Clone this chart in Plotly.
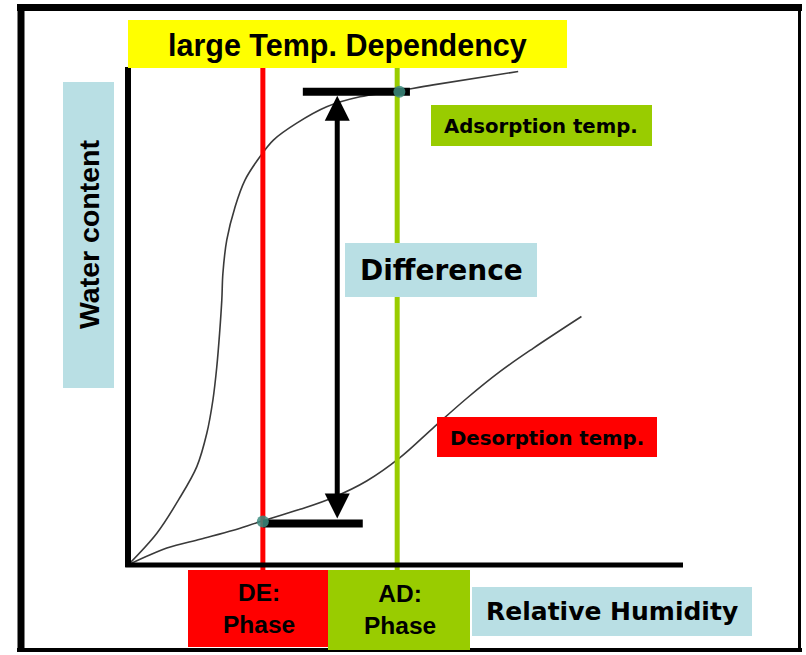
import plotly.graph_objects as go

# ---------------- data ----------------
# Adsorption-temperature isotherm (upper curve): relative humidity (%) vs water content (%)
rh_adsorption = [0, 5.2, 9.1, 12.4, 14.2, 15.3, 16.0, 16.5, 16.9, 17.1, 17.8, 19.3, 21.1,
                 23.8, 26.2, 30.4, 35.8, 41.8, 47.8, 55.0, 70.3]
wc_adsorption = [0, 6.4, 13.1, 19.8, 26.5, 33.2, 39.9, 46.6, 53.3, 58.7, 65.4, 72.1, 77.5,
                 82.2, 85.5, 88.9, 92.2, 94.2, 95.2, 96.6, 99.3]

# Desorption-temperature isotherm (lower curve)
rh_desorption = [0, 7.0, 13.0, 19.0, 23.2, 31.0, 37.0, 43.0, 49.0, 55.0, 61.0, 67.0, 73.0, 81.7]
wc_desorption = [0, 3.4, 5.2, 7.0, 8.5, 11.2, 13.6, 16.9, 21.6, 27.6, 33.5, 38.9, 43.6, 50.0]

# Phase markers (relative humidity)
de_phase_rh = 24.3
ad_phase_rh = 48.5

# Difference indicator
diff_rh = 37.7
diff_top_wc = 95.2        # adsorption value at AD phase
diff_bottom_wc = 8.35     # desorption value at DE phase
diff_top_bar_rh = [31.5, 50.8]
diff_bottom_bar_rh = [24.3, 42.3]
arrow_top_wc = 94.4
arrow_bottom_wc = 9.05

# Text labels
title_text = "large Temp. Dependency"
y_label = "Water content"
x_label = "Relative Humidity"
ads_label = "Adsorption temp."
des_label = "Desorption temp."
diff_label = "Difference"
de_label = "DE:<br>Phase"
ad_label = "AD:<br>Phase"

# ---------------- layout geometry ----------------
W, H = 806, 655
X0_PX, X100_PX = 128, 683
Y0_PX, Y100_PX = 565, 68
sx = (X100_PX - X0_PX) / 100.0
sy = (Y0_PX - Y100_PX) / 100.0
x_range = [-X0_PX / sx, (W - X0_PX) / sx]
y_range = [-(H - Y0_PX) / sy, Y0_PX / sy]


def px(x):
    return x / W


def py(y):
    return 1 - y / H


YELLOW = "#ffff00"
GREEN = "#99cc00"
RED = "#ff0000"
LBLUE = "#b9dfe4"
CURVE = "#3a3a3a"
DOT = "#3d8c7f"

fig = go.Figure()

# isotherm curves
fig.add_trace(go.Scatter(x=rh_adsorption, y=wc_adsorption, mode="lines",
                         line=dict(color=CURVE, width=1.6, shape="spline", smoothing=1.0),
                         hoverinfo="skip"))
fig.add_trace(go.Scatter(x=rh_desorption, y=wc_desorption, mode="lines",
                         line=dict(color=CURVE, width=1.6, shape="spline", smoothing=1.0),
                         hoverinfo="skip"))

# phase lines
fig.add_trace(go.Scatter(x=[de_phase_rh, de_phase_rh], y=[-1, 100], mode="lines",
                         line=dict(color=RED, width=5), hoverinfo="skip"))
fig.add_trace(go.Scatter(x=[ad_phase_rh, ad_phase_rh], y=[-1, 100], mode="lines",
                         line=dict(color=GREEN, width=5), hoverinfo="skip"))

# difference bars
fig.add_trace(go.Scatter(x=diff_top_bar_rh, y=[diff_top_wc, diff_top_wc], mode="lines",
                         line=dict(color="black", width=8), hoverinfo="skip"))
fig.add_trace(go.Scatter(x=diff_bottom_bar_rh, y=[diff_bottom_wc, diff_bottom_wc], mode="lines",
                         line=dict(color="black", width=8), hoverinfo="skip"))

# intersection dots
fig.add_trace(go.Scatter(x=[ad_phase_rh + 0.4, de_phase_rh], y=[diff_top_wc, diff_bottom_wc + 0.4],
                         mode="markers",
                         marker=dict(color=DOT, size=12, symbol="circle", opacity=0.85),
                         hoverinfo="skip"))

shapes = []
# axes
shapes.append(dict(type="line", xref="x", yref="y", x0=0, x1=0, y0=-0.4, y1=100.2,
                   line=dict(color="black", width=6)))
shapes.append(dict(type="line", xref="x", yref="y", x0=-0.5, x1=100, y0=0, y1=0,
                   line=dict(color="black", width=5)))

# frame
shapes += [
    dict(type="line", xref="paper", yref="paper", x0=px(17), x1=px(802), y0=py(7.5), y1=py(7.5),
         line=dict(color="black", width=7)),
    dict(type="line", xref="paper", yref="paper", x0=px(21), x1=px(21), y0=py(4), y1=py(652),
         line=dict(color="black", width=7)),
    dict(type="line", xref="paper", yref="paper", x0=px(799.5), x1=px(799.5), y0=py(4), y1=py(652),
         line=dict(color="black", width=3)),
    dict(type="line", xref="paper", yref="paper", x0=px(17), x1=px(802), y0=py(650), y1=py(650),
         line=dict(color="black", width=4)),
]


def box(x0, y0, x1, y1, color):
    return dict(type="rect", xref="paper", yref="paper", x0=px(x0), x1=px(x1),
                y0=py(y1), y1=py(y0), fillcolor=color, line=dict(width=0), layer="above")


shapes += [
    box(128, 20, 567, 68, YELLOW),
    box(63, 82, 114, 388, LBLUE),
    box(431, 105, 652, 146, GREEN),
    box(437, 417, 657, 457, RED),
    box(345, 243, 537, 297, LBLUE),
    box(188, 570, 328, 647, RED),
    box(328, 570, 470, 650, GREEN),
    box(472, 587, 752, 636, LBLUE),
]

ARIAL = "Liberation Sans"
TAHOMA = "DejaVu Sans"


def label(text, x, y, size, family, angle=0):
    return dict(text=text, xref="paper", yref="paper", x=px(x), y=py(y),
                xanchor="center", yanchor="middle", showarrow=False, textangle=angle,
                font=dict(family=family, size=size, color="black", weight="bold"))


annotations = [
    label(title_text, 347, 45, 30.5, ARIAL),
    label(y_label, 89, 235, 28.5, ARIAL, angle=-90),
    label(ads_label, 541, 126, 19.7, TAHOMA),
    label(des_label, 547, 438, 19.7, TAHOMA),
    label(diff_label, 441, 270, 28, TAHOMA),
    label(de_label, 259, 608, 24.5, ARIAL),
    label(ad_label, 400, 609, 24.5, ARIAL),
    label(x_label, 612, 611, 25, TAHOMA),
    # double-headed difference arrow
    dict(x=diff_rh, y=arrow_top_wc, ax=diff_rh, ay=arrow_bottom_wc, xref="x", yref="y",
         axref="x", ayref="y", text="", showarrow=True, arrowside="end+start",
         arrowhead=2, startarrowhead=2, arrowwidth=5, arrowsize=1.0, startarrowsize=1.0,
         arrowcolor="black"),
]

fig.update_layout(
    width=W, height=H,
    margin=dict(l=0, r=0, t=0, b=0),
    paper_bgcolor="white", plot_bgcolor="white",
    showlegend=False,
    xaxis=dict(range=x_range, visible=False, showgrid=False, zeroline=False, fixedrange=True),
    yaxis=dict(range=y_range, visible=False, showgrid=False, zeroline=False, fixedrange=True),
    shapes=shapes,
    annotations=annotations,
)

fig.write_html("out.html", config={"displayModeBar": False},
               post_script="document.body.style.margin='0';document.body.style.overflow='hidden';")
